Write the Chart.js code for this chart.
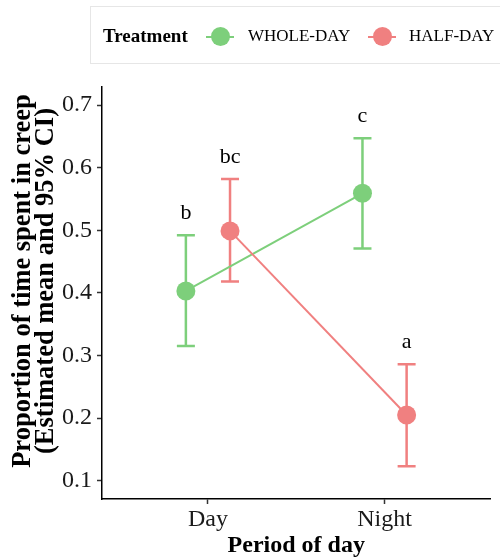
<!DOCTYPE html>
<html lang="en">
<head>
  <meta charset="UTF-8">
  <title>Proportion of time spent in creep</title>
  <script src="https://cdn.jsdelivr.net/npm/chart.js"></script>
  <style>
    body, html {
      width: 500px;
      height: 558px;
      margin: 0;
      padding: 0;
      overflow: hidden;
      background: #fff;
      font-family: "Liberation Serif", serif;
    }
    .wrap {
      position: relative;
      width: 500px;
      height: 558px;
    }
    .legend {
      position: absolute;
      left: 90px;
      top: 6px;
      width: 412px;
      height: 58px;
      border: 1px solid #e6e6e6;
      box-sizing: border-box;
    }
    .legend span {
      position: absolute;
      top: 18px;
      line-height: 22px;
      white-space: nowrap;
    }
    .legend .ttl { left: 12px; font-weight: bold; font-size: 19px; }
    .legend .lbl { font-size: 17px; }
    .key {
      position: absolute;
      top: 29px;
      width: 28px;
      height: 2px;
    }
    .key::after {
      content: "";
      position: absolute;
      left: 4.5px;
      top: -9px;
      width: 19px;
      height: 19px;
      border-radius: 50%;
      background: inherit;
    }
  </style>
</head>
<body>
  <div class="wrap">
    <canvas id="creepChart" width="500" height="558"></canvas>
    <div class="legend">
      <span class="ttl">Treatment</span>
      <div class="key" style="left:115px; background:#7dcf7b"></div>
      <span class="lbl" style="left:157px">WHOLE-DAY</span>
      <div class="key" style="left:277px; background:#f08080"></div>
      <span class="lbl" style="left:318px">HALF-DAY</span>
    </div>
  </div>

  <script>
    // periods on the x axis and the two treatments
    const periods = ['Day', 'Night'];
    const treatments = ['WHOLE-DAY', 'HALF-DAY'];
    const colors = ['#7dcf7b', '#f08080'];

    // estimated means and 95% CI per treatment, one value per period
    const wholeMean = [0.403, 0.559];
    const wholeLow = [0.315, 0.471];
    const wholeHigh = [0.492, 0.647];
    const halfMean = [0.499, 0.205];
    const halfLow = [0.418, 0.123];
    const halfHigh = [0.582, 0.286];

    // significance letters
    const wholeLetters = ['b', 'c'];
    const halfLetters = ['bc', 'a'];

    const yTicks = [0.1, 0.2, 0.3, 0.4, 0.5, 0.6, 0.7];
    const dodge = [-0.125, 0.125];

    const groups = [
      { mean: wholeMean, low: wholeLow, high: wholeHigh, letters: wholeLetters },
      { mean: halfMean, low: halfLow, high: halfHigh, letters: halfLetters }
    ];

    const serif = '"Liberation Serif", serif';

    const errorBars = {
      id: 'errorBars',
      beforeDatasetsDraw(chart) {
        const { ctx, scales: { x, y } } = chart;
        ctx.save();
        ctx.lineWidth = 2.5;
        groups.forEach((g, gi) => {
          ctx.strokeStyle = colors[gi];
          g.mean.forEach((m, i) => {
            const px = x.getPixelForValue(i + 1 + dodge[gi]);
            const top = y.getPixelForValue(g.high[i]);
            const bot = y.getPixelForValue(g.low[i]);
            ctx.beginPath();
            ctx.moveTo(px, top); ctx.lineTo(px, bot);
            ctx.moveTo(px - 9, top); ctx.lineTo(px + 9, top);
            ctx.moveTo(px - 9, bot); ctx.lineTo(px + 9, bot);
            ctx.stroke();
          });
        });
        ctx.restore();
      },
      afterDatasetsDraw(chart) {
        const { ctx, scales: { x, y } } = chart;
        ctx.save();
        ctx.fillStyle = '#000';
        ctx.font = '22px ' + serif;
        ctx.textAlign = 'center';
        ctx.textBaseline = 'alphabetic';
        groups.forEach((g, gi) => {
          g.letters.forEach((t, i) => {
            const px = x.getPixelForValue(i + 1 + dodge[gi]);
            ctx.fillText(t, px, y.getPixelForValue(g.high[i]) - 16);
          });
        });
        ctx.restore();
      },
      afterDraw(chart) {
        const { ctx, chartArea: a } = chart;
        ctx.save();
        ctx.fillStyle = '#000';
        ctx.textAlign = 'center';
        ctx.textBaseline = 'alphabetic';
        ctx.font = 'bold 24px ' + serif;
        ctx.fillText('Period of day', (a.left + a.right) / 2, 552);
        ctx.font = 'bold 26.5px ' + serif;
        ctx.translate(30, 281);
        ctx.rotate(-Math.PI / 2);
        ctx.fillText('Proportion of time spent in creep', 0, 0);
        ctx.fillText('(Estimated mean and 95% CI)', 0, 23);
        ctx.restore();
      }
    };

    // no extra room for edge tick labels; the plot area is set by layout padding
    const noEdgePadding = s => {
      s.paddingLeft = 0; s.paddingRight = 0;
      s.paddingTop = 0; s.paddingBottom = 0;
    };

    new Chart(document.getElementById('creepChart'), {
      type: 'scatter',
      data: {
        datasets: groups.map((g, gi) => ({
          label: treatments[gi],
          data: g.mean.map((m, i) => ({ x: i + 1 + dodge[gi], y: m })),
          showLine: true,
          borderColor: colors[gi],
          backgroundColor: colors[gi],
          borderWidth: 2,
          pointRadius: 9.5,
          pointBorderWidth: 0,
          pointHoverRadius: 9.5,
          order: gi === 0 ? 1 : 0
        }))
      },
      options: {
        responsive: false,
        animation: false,
        events: [],
        layout: { padding: { top: 87, right: 4, left: 0, bottom: 0 } },
        plugins: { legend: { display: false }, tooltip: { enabled: false } },
        scales: {
          x: {
            type: 'linear',
            min: 0.4,
            max: 2.6,
            afterBuildTicks: s => { s.ticks = periods.map((p, i) => ({ value: i + 1 })); },
            afterFit: s => { s.height = 59; noEdgePadding(s); },
            ticks: {
              callback: v => periods[v - 1],
              color: '#1a1a1a',
              font: { family: serif, size: 24 },
              padding: 1,
              maxRotation: 0
            },
            grid: { drawOnChartArea: false, tickLength: 5, tickColor: '#333', tickWidth: 1.5 },
            border: { color: '#000', width: 1.5 }
          },
          y: {
            min: 0.0708,
            max: 0.7288,
            afterBuildTicks: s => { s.ticks = yTicks.map(v => ({ value: v })); },
            afterFit: s => { s.width = 102; noEdgePadding(s); },
            ticks: {
              callback: v => v.toFixed(1),
              color: '#1a1a1a',
              font: { family: serif, size: 24 },
              padding: 5
            },
            grid: { drawOnChartArea: false, tickLength: 5, tickColor: '#333', tickWidth: 1.5 },
            border: { color: '#000', width: 1.5 }
          }
        }
      },
      plugins: [errorBars]
    });
  </script>
</body>
</html>
